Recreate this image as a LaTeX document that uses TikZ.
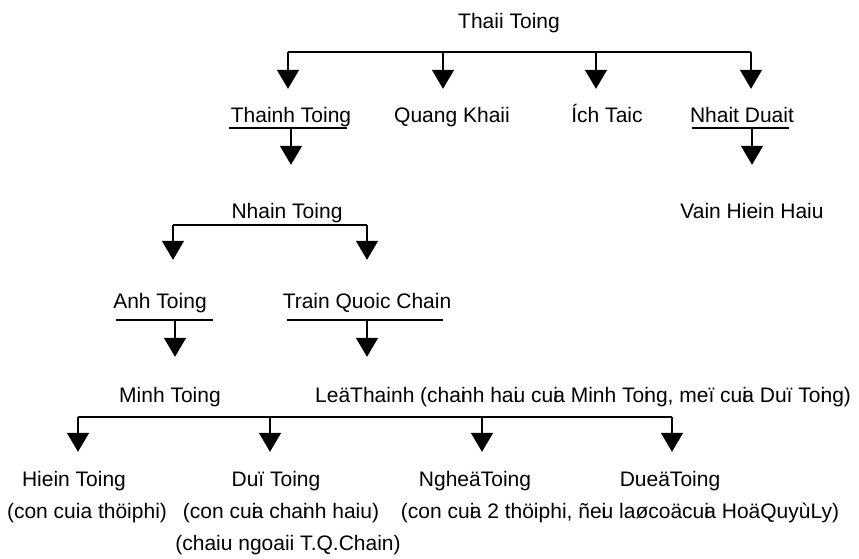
\documentclass[tikz,border=0pt]{standalone}
\usepackage{fontspec}
\setmainfont{Liberation Sans}
\usetikzlibrary{arrows.meta,calc}
\newcommand{\ov}[1]{\makebox[0pt][l]{#1}}
\tikzset{
  kin/.style={line width=1.5pt},
  drop/.style={kin,-{Triangle[width=22pt,length=19pt]}},
  who/.style={font=\fontsize{21}{25}\selectfont,inner sep=0pt,anchor=base,
    text height=15pt,text depth=5pt},
}

\begin{document}
\begin{tikzpicture}[x=1pt,y=-1pt]
  \useasboundingbox (0,0) rectangle (859,558);

  % names
  \node[who] (thai) at (509,28) {Thaii Toing};
  \node[who] (thanh) at (291,122) {Thainh Toing};
  \node[who] (quang) at (452,122) {Quang Khaii};
  \node[who] (ich) at (607,122) {Ích Taic};
  \node[who] (nhat) at (742,122) {Nhait Duait};
  \node[who] (van) at (752,218) {Vain Hiein Haiu};
  \node[who] (nhan) at (287,218) {Nhain Toing};
  \node[who] (anh) at (160,308) {Anh Toing};
  \node[who] (tran) at (367,308) {Train Quoic Chain};
  \node[who] (minh) at (170,402) {Minh Toing};
  \node[who,anchor=base west] (le) at (315,402)
    {LeäThainh (cha\ov{i}nh ha\ov{i}u cu\ov{i}a Minh To\ov{i}ng, meï cu\ov{i}a Duï To\ov{i}ng)};
  \node[who] (hien) at (74,486) {Hiein Toing};
  \node[who] (du) at (276,486) {Duï Toing};
  \node[who] (nghe) at (475,486) {NgheäToing};
  \node[who] (due) at (670,486) {DueäToing};
  \node[who] (hien-note) at (87,518) {(con cuia thöiphi)};
  \node[who] (du-note) at (281,518) {(con cu\ov{i}a cha\ov{i}nh haiu)};
  \node[who] (du-note2) at (288,550) {(chaiu ngoaii T.Q.Chain)};
  \node[who] (nghe-note) at (620,518) {(con cu\ov{i}a 2 thöiphi, ñe\ov{i}u laøcoäcu\ov{i}a HoäQuyùLy)};

  % bars and underlines
  \coordinate (thai-l) at (288,52);  \coordinate (thai-r) at (751,52);
  \coordinate (thanh-l) at (229,128); \coordinate (thanh-r) at (347,128);
  \coordinate (nhat-l) at (692,128);  \coordinate (nhat-r) at (789,128);
  \coordinate (nhan-l) at (173,225);  \coordinate (nhan-r) at (367,225);
  \coordinate (anh-l) at (116,320);   \coordinate (anh-r) at (213,320);
  \coordinate (tran-l) at (287,320);  \coordinate (tran-r) at (443,320);
  \coordinate (minh-l) at (78,417);   \coordinate (minh-r) at (672,417);
  \foreach \p in {thai,thanh,nhat,nhan,anh,tran,minh}
    \draw[kin] (\p-l) -- (\p-r);

  % arrows down to the children
  \foreach \x/\bar/\kid/\gap in {288/thai/thanh/18,443/thai/quang/18,596/thai/ich/18,
      751/thai/nhat/18,291/thanh/nhan/38,752/nhat/van/38,173/nhan/anh/33,
      367/nhan/tran/33,175/anh/minh/30,367/tran/le/30,78/minh/hien/19,
      270/minh/du/19,482/minh/nghe/19,672/minh/due/19} {
    \coordinate (up-\kid) at (\x,0);
    \draw[drop,shorten >=\gap pt] (up-\kid |- \bar-l) -- (up-\kid |- \kid.north);
  }
\end{tikzpicture}
\end{document}
